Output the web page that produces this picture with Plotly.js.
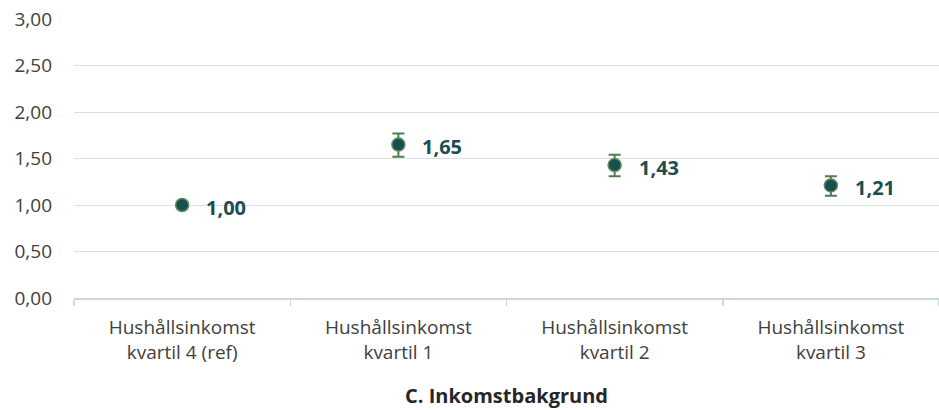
<!DOCTYPE html>
<html>
<head>
<meta charset="utf-8">
<script src="https://cdn.plot.ly/plotly-3.0.1.min.js"></script>
<style>
  html, body { margin: 0; padding: 0; background: #ffffff; }
  #chart { width: 939px; height: 410px; }
</style>
</head>
<body>
<div id="chart"></div>
<script>
const categories = [
  "Hushållsinkomst<br>kvartil 4 (ref)",
  "Hushållsinkomst<br>kvartil 1",
  "Hushållsinkomst<br>kvartil 2",
  "Hushållsinkomst<br>kvartil 3"
];
const oddsRatios = [1.00, 1.65, 1.43, 1.21];
const ciLower = [1.00, 1.52, 1.31, 1.10];
const ciUpper = [1.00, 1.77, 1.54, 1.31];
const axisTitle = "C. Inkomstbakgrund";
const yTicks = [0, 0.5, 1, 1.5, 2, 2.5, 3];

const fontFamily = "'Open Sans', 'Noto Sans', sans-serif";

const trace = {
  type: "scatter",
  mode: "markers",
  x: categories,
  y: oddsRatios,
  marker: { size: 13, color: "#184f4f", line: { color: "#5d8b5c", width: 1.5 } },
  error_y: {
    type: "data",
    symmetric: false,
    array: oddsRatios.map((v, i) => ciUpper[i] - v),
    arrayminus: oddsRatios.map((v, i) => v - ciLower[i]),
    color: "#4f7d50",
    thickness: 2,
    width: 6
  },
  hoverinfo: "skip",
  showlegend: false
};

const annotations = oddsRatios.map((v, i) => ({
  x: categories[i],
  y: v,
  xref: "x",
  yref: "y",
  text: v.toFixed(2).replace(".", ","),
  showarrow: false,
  xanchor: "left",
  yanchor: "middle",
  xshift: 22,
  yshift: -2,
  font: { family: fontFamily, size: 20, color: "#1a4e4f", weight: "bold" }
}));

const layout = {
  width: 939,
  height: 410,
  margin: { l: 74, r: 0, t: 19, b: 112 },
  paper_bgcolor: "#ffffff",
  plot_bgcolor: "#ffffff",
  separators: ", ",
  showlegend: false,
  font: { family: fontFamily, color: "#404040" },
  xaxis: {
    type: "category",
    range: [-0.5, 3.5],
    tickson: "boundaries",
    ticks: "outside",
    ticklen: 6,
    tickwidth: 1.5,
    tickcolor: "#cfd8d8",
    showline: true,
    linecolor: "#cfd8d8",
    linewidth: 2,
    showgrid: false,
    ticklabelstandoff: 11,
    tickfont: { family: fontFamily, size: 19, color: "#404040" },
    title: { text: "<b>" + axisTitle + "</b>", font: { family: fontFamily, size: 20, color: "#262626" }, standoff: 25 },
    fixedrange: true
  },
  yaxis: {
    range: [0, 3],
    tickvals: yTicks,
    tickformat: ".2f",
    showgrid: true,
    gridcolor: "#dadfdf",
    gridwidth: 1,
    zeroline: false,
    showline: false,
    ticks: "",
    ticklabelstandoff: 21,
    tickfont: { family: fontFamily, size: 19, color: "#404040" },
    fixedrange: true
  },
  annotations: annotations
};

Plotly.newPlot("chart", [trace], layout, { displayModeBar: false, staticPlot: true });
</script>
</body>
</html>
